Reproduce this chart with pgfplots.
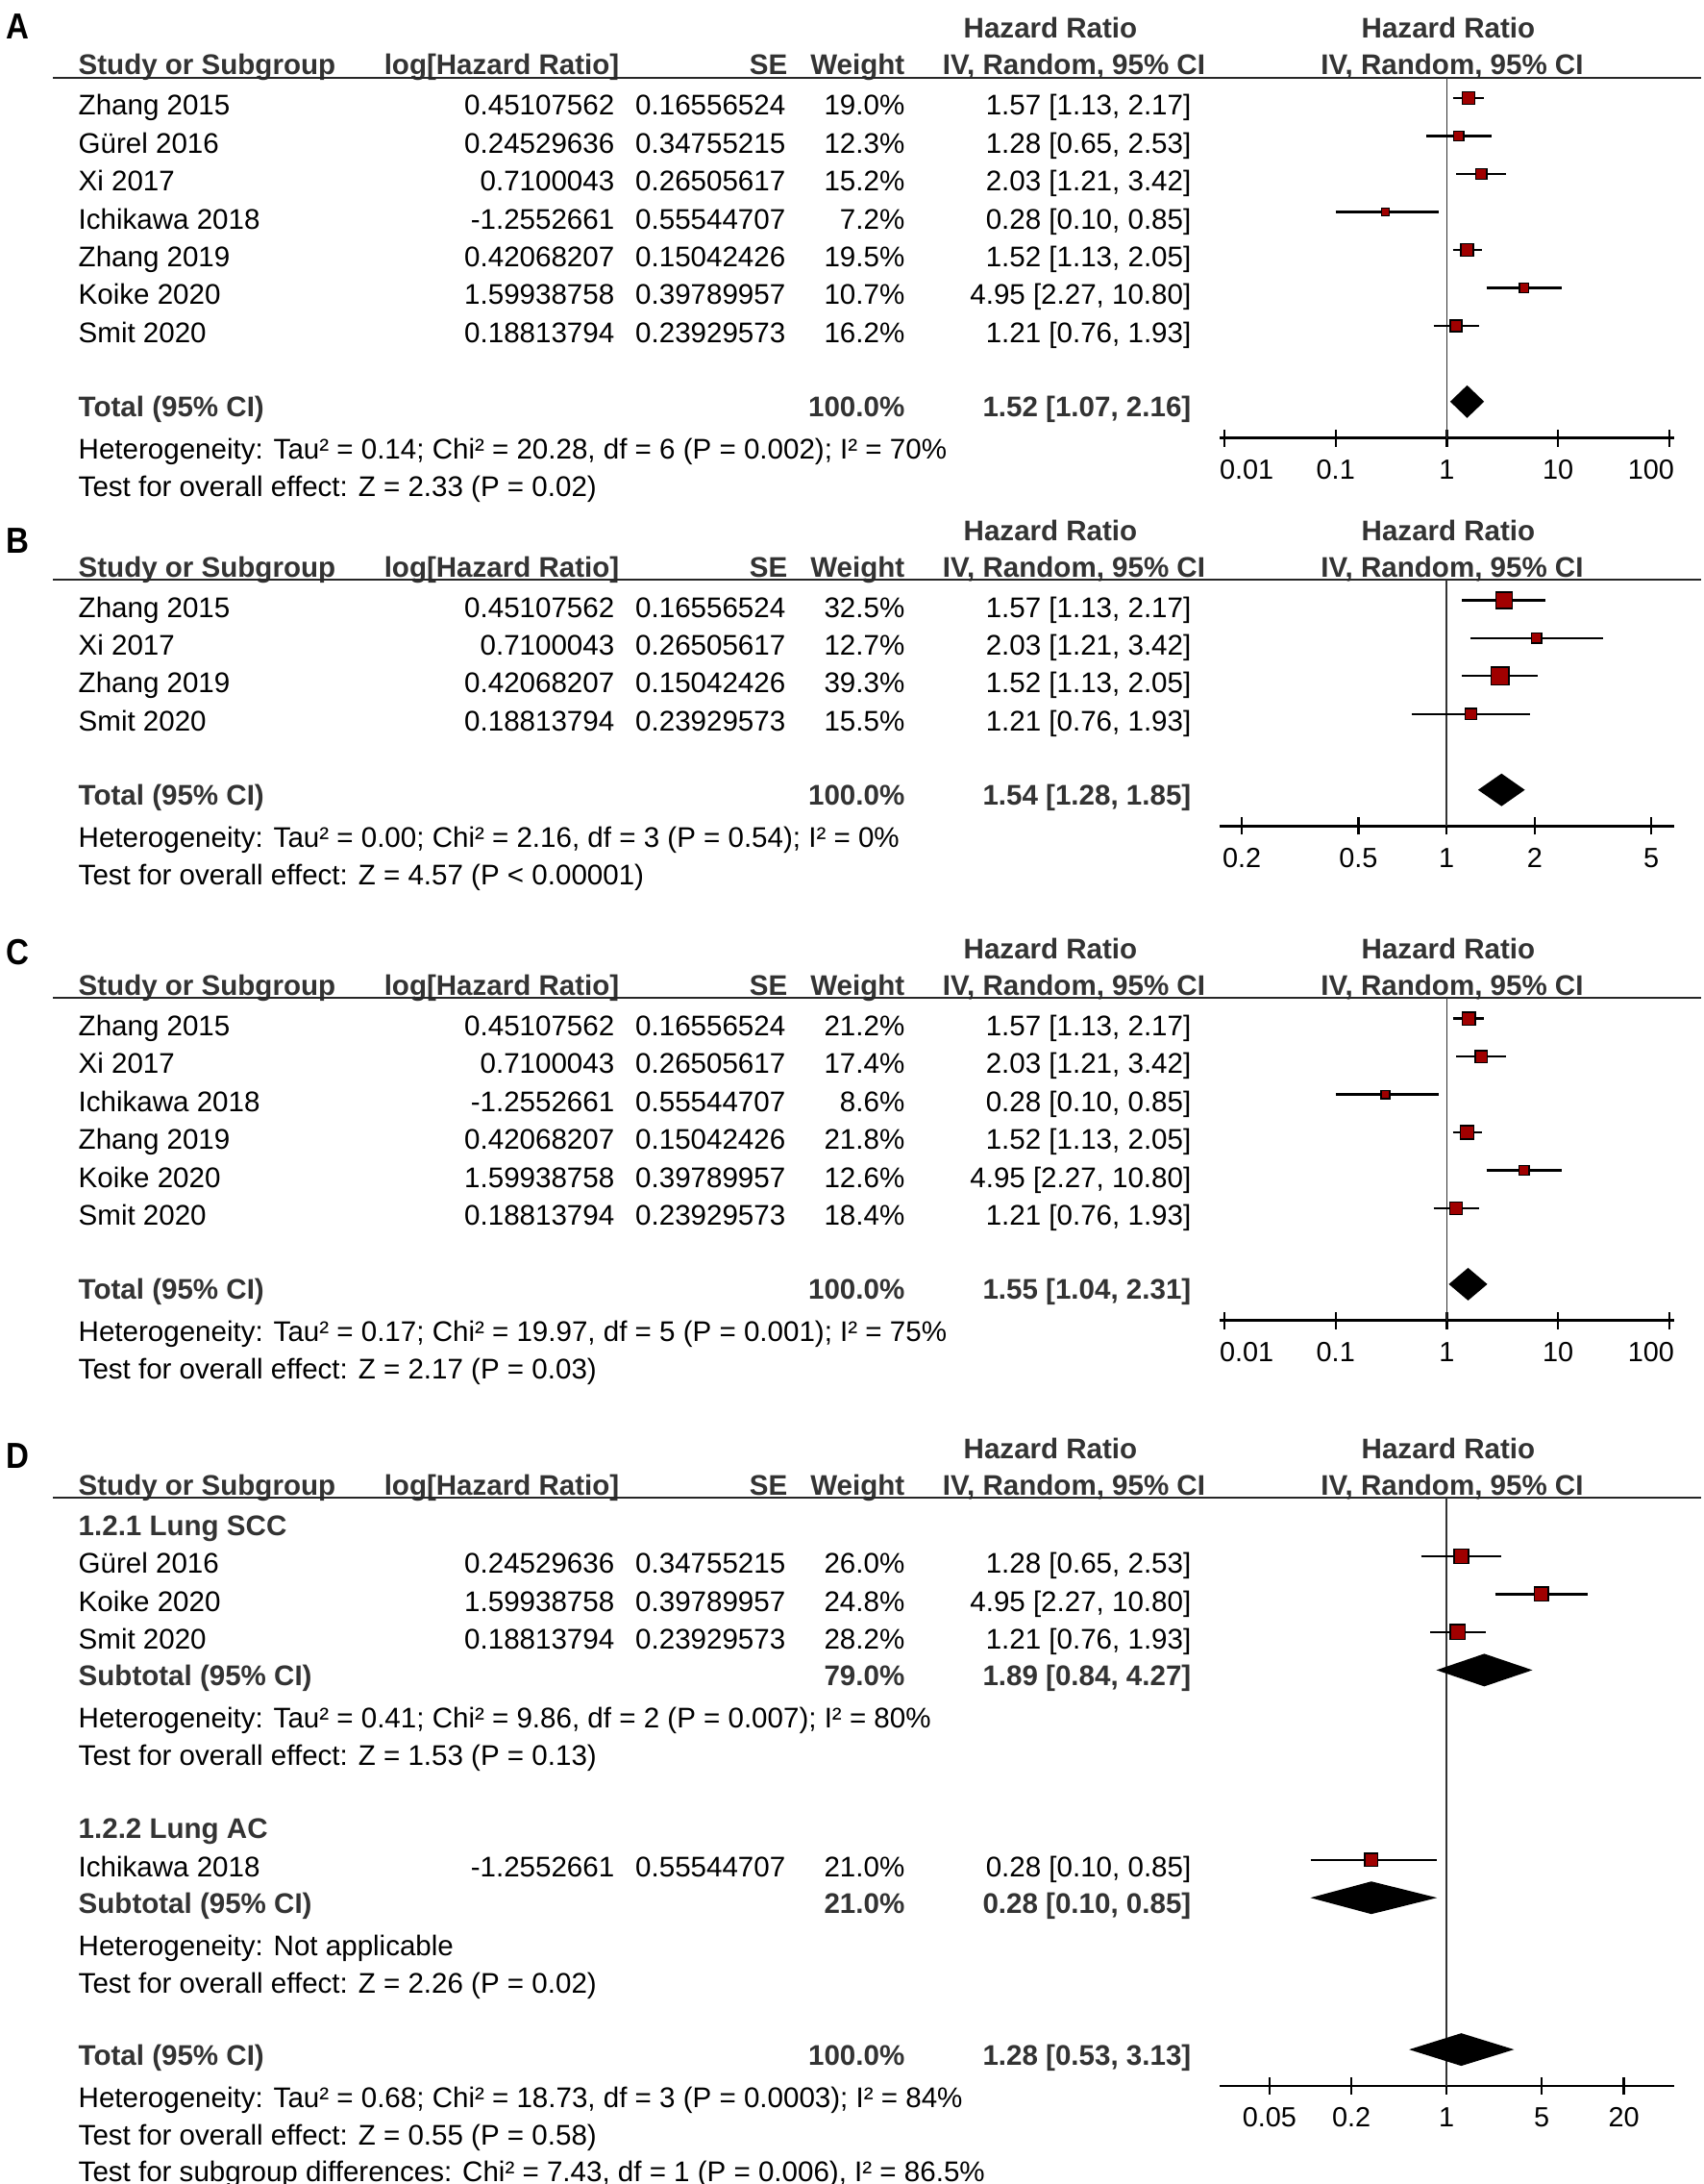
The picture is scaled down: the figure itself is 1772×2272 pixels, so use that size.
\documentclass[border=0pt]{standalone}
\usepackage{fontspec}
\setmainfont{Liberation Sans}
\usepackage{graphicx}
\usepackage{pgfplots}
\pgfplotsset{compat=1.18}

\definecolor{hd}{HTML}{333333}
\definecolor{sq}{HTML}{A00000}

\newcommand{\fs}{\fontsize{8.4}{10}\selectfont}
\newcommand{\Ry}{0}

% one study row of the table (row, name, log HR, SE, weight, HR [CI])
\newcommand{\study}[6]{%
  \node[anchor=base west] at ({81},{\Ry+39+39.45*(#1-1)}) {#2};
  \node[anchor=base east] at ({640},{\Ry+39+39.45*(#1-1)}) {#3};
  \node[anchor=base east] at ({818},{\Ry+39+39.45*(#1-1)}) {#4};
  \node[anchor=base east] at ({942},{\Ry+39+39.45*(#1-1)}) {#5};
  \node[anchor=base east] at ({1240},{\Ry+39+39.45*(#1-1)}) {#6};}
% bold total / subtotal row
\newcommand{\total}[4]{%
  \node[anchor=base west, text=hd, font=\bfseries\fs] at ({81},{\Ry+37.5+39.45*(#1-1)}) {#2};
  \node[anchor=base east, text=hd, font=\bfseries\fs] at ({942},{\Ry+37.5+39.45*(#1-1)}) {#3};
  \node[anchor=base east, text=hd, font=\bfseries\fs] at ({1240},{\Ry+37.5+39.45*(#1-1)}) {#4};}
% subgroup title
\newcommand{\group}[2]{%
  \node[anchor=base west, text=hd, font=\bfseries\fs] at ({81},{\Ry+39+39.45*(#1-1)}) {#2};}
% notes under a total row (row, offset, text)
\newcommand{\note}[3]{%
  \node[anchor=base west] at ({81},{\Ry+21.5+39.45*(#1-1)+#2}) {#3};}
% column heads and rule (letter, letter baseline)
\newcommand{\header}[2]{%
  \node[anchor=base west, font=\bfseries\fontsize{10.7}{12}\selectfont] at (6,#2) {\scalebox{0.88}[1]{#1}};
  \node[anchor=base, text=hd, font=\bfseries\fs] at (1093,{\Ry-41}) {Hazard Ratio};
  \node[anchor=base, text=hd, font=\bfseries\fs] at (1507,{\Ry-41}) {Hazard Ratio};
  \node[anchor=base west, text=hd, font=\bfseries\fs] at (81,{\Ry-3}) {Study or Subgroup};
  \node[anchor=base east, text=hd, font=\bfseries\fs] at (645,{\Ry-3}) {log[Hazard Ratio]};
  \node[anchor=base east, text=hd, font=\bfseries\fs] at (820,{\Ry-3}) {SE};
  \node[anchor=base east, text=hd, font=\bfseries\fs] at (942,{\Ry-3}) {Weight};
  \node[anchor=base, text=hd, font=\bfseries\fs] at (1117.5,{\Ry-3}) {IV, Random, 95\% CI};
  \node[anchor=base, text=hd, font=\bfseries\fs] at (1511,{\Ry-3}) {IV, Random, 95\% CI};
  \draw[line width=0.6pt, black!85] (55,\Ry) -- (1770,\Ry);}

% forest plot pieces
\newcommand{\ci}[3]{\addplot[black, line width=0.65pt] coordinates {(#1,#3) (#2,#3)};}
\pgfplotsset{
  every axis/.append style={
    scale only axis, width=4.727cm, clip=false,
    anchor=south west,
    axis y line=none, ytick=\empty,
    axis x line*=bottom,
    x axis line style={-, line width=0.65pt, black},
    xtick align=center, major tick length=0.18cm,
    tick style={line width=0.65pt, black},
    xminorticks=false,
    xticklabel style={font=\fontsize{8.2}{10}\selectfont, inner sep=0pt, anchor=base, yshift=-0.34cm},
  },
}

\begin{document}
\begin{tikzpicture}
\begin{scope}[x=0.01cm, y=-0.01cm, every node/.style={inner sep=0pt, font=\fs}]
\useasboundingbox (0,0) rectangle (1772,2272);

% ---------------- A ----------------
\renewcommand{\Ry}{80.7}
\header{A}{40}
\study{1}{Zhang 2015}{0.45107562}{0.16556524}{19.0\%}{1.57 [1.13, 2.17]}
\study{2}{Gürel 2016}{0.24529636}{0.34755215}{12.3\%}{1.28 [0.65, 2.53]}
\study{3}{Xi 2017}{0.7100043}{0.26505617}{15.2\%}{2.03 [1.21, 3.42]}
\study{4}{Ichikawa 2018}{-1.2552661}{0.55544707}{7.2\%}{0.28 [0.10, 0.85]}
\study{5}{Zhang 2019}{0.42068207}{0.15042426}{19.5\%}{1.52 [1.13, 2.05]}
\study{6}{Koike 2020}{1.59938758}{0.39789957}{10.7\%}{4.95 [2.27, 10.80]}
\study{7}{Smit 2020}{0.18813794}{0.23929573}{16.2\%}{1.21 [0.76, 1.93]}
\total{9}{Total (95\% CI)}{100.0\%}{1.52 [1.07, 2.16]}
\note{9}{60}{Heterogeneity: Tau² = 0.14; Chi² = 20.28, df = 6 (P = 0.002); I² = 70\%}
\note{9}{99}{Test for overall effect: Z = 2.33 (P = 0.02)}
\coordinate (axA) at (1269,455.5);

% ---------------- B ----------------
\renewcommand{\Ry}{603}
\header{B}{575}
\study{1}{Zhang 2015}{0.45107562}{0.16556524}{32.5\%}{1.57 [1.13, 2.17]}
\study{2}{Xi 2017}{0.7100043}{0.26505617}{12.7\%}{2.03 [1.21, 3.42]}
\study{3}{Zhang 2019}{0.42068207}{0.15042426}{39.3\%}{1.52 [1.13, 2.05]}
\study{4}{Smit 2020}{0.18813794}{0.23929573}{15.5\%}{1.21 [0.76, 1.93]}
\total{6}{Total (95\% CI)}{100.0\%}{1.54 [1.28, 1.85]}
\note{6}{60}{Heterogeneity: Tau² = 0.00; Chi² = 2.16, df = 3 (P = 0.54); I² = 0\%}
\note{6}{99}{Test for overall effect: Z = 4.57 (P < 0.00001)}
\coordinate (axB) at (1269,859.4);

% ---------------- C ----------------
\renewcommand{\Ry}{1038.3}
\header{C}{1003}
\study{1}{Zhang 2015}{0.45107562}{0.16556524}{21.2\%}{1.57 [1.13, 2.17]}
\study{2}{Xi 2017}{0.7100043}{0.26505617}{17.4\%}{2.03 [1.21, 3.42]}
\study{3}{Ichikawa 2018}{-1.2552661}{0.55544707}{8.6\%}{0.28 [0.10, 0.85]}
\study{4}{Zhang 2019}{0.42068207}{0.15042426}{21.8\%}{1.52 [1.13, 2.05]}
\study{5}{Koike 2020}{1.59938758}{0.39789957}{12.6\%}{4.95 [2.27, 10.80]}
\study{6}{Smit 2020}{0.18813794}{0.23929573}{18.4\%}{1.21 [0.76, 1.93]}
\total{8}{Total (95\% CI)}{100.0\%}{1.55 [1.04, 2.31]}
\note{8}{60}{Heterogeneity: Tau² = 0.17; Chi² = 19.97, df = 5 (P = 0.001); I² = 75\%}
\note{8}{99}{Test for overall effect: Z = 2.17 (P = 0.03)}
\coordinate (axC) at (1269,1373.6);

% ---------------- D ----------------
\renewcommand{\Ry}{1558.3}
\header{D}{1527}
\group{1}{1.2.1 Lung SCC}
\study{2}{Gürel 2016}{0.24529636}{0.34755215}{26.0\%}{1.28 [0.65, 2.53]}
\study{3}{Koike 2020}{1.59938758}{0.39789957}{24.8\%}{4.95 [2.27, 10.80]}
\study{4}{Smit 2020}{0.18813794}{0.23929573}{28.2\%}{1.21 [0.76, 1.93]}
\total{5}{Subtotal (95\% CI)}{79.0\%}{1.89 [0.84, 4.27]}
\note{5}{60}{Heterogeneity: Tau² = 0.41; Chi² = 9.86, df = 2 (P = 0.007); I² = 80\%}
\note{5}{99}{Test for overall effect: Z = 1.53 (P = 0.13)}
\group{9}{1.2.2 Lung AC}
\study{10}{Ichikawa 2018}{-1.2552661}{0.55544707}{21.0\%}{0.28 [0.10, 0.85]}
\total{11}{Subtotal (95\% CI)}{21.0\%}{0.28 [0.10, 0.85]}
\note{11}{60}{Heterogeneity: Not applicable}
\note{11}{99}{Test for overall effect: Z = 2.26 (P = 0.02)}
\total{15}{Total (95\% CI)}{100.0\%}{1.28 [0.53, 3.13]}
\note{15}{60}{Heterogeneity: Tau² = 0.68; Chi² = 18.73, df = 3 (P = 0.0003); I² = 84\%}
\note{15}{99}{Test for overall effect: Z = 0.55 (P = 0.58)}
\note{15}{137}{Test for subgroup differences: Chi² = 7.43, df = 1 (P = 0.006), I² = 86.5\%}
\coordinate (axD) at (1269,2169.8);
\end{scope}

% ---------------- forest plots ----------------
\begin{axis}[xmode=log, at={(axA)}, height=3.748cm,
  xmin=0.009051, xmax=110.5, ymin=-9.955, ymax=-0.455,
  xtick={0.01,0.1,1,10,100},
  xticklabels={\makebox[0pt][l]{\kern-0.05cm 0.01},0.1,1,10,\makebox[0pt][r]{100\kern-0.05cm}}]
\addplot[line width=0.5pt, hd] coordinates {(1,-0.455) (1,-9.955)};
\ci{1.13}{2.17}{-1} \ci{0.65}{2.53}{-2} \ci{1.21}{3.42}{-3} \ci{0.10}{0.85}{-4}
\ci{1.13}{2.05}{-5} \ci{2.27}{10.80}{-6} \ci{0.76}{1.93}{-7}
\addplot[scatter, only marks, mark=square*,
    scatter/use mapped color={draw=none, fill=sq},
    visualization depends on={0.42*sqrt(\thisrow{w}) \as \ms},
    scatter/@pre marker code/.append style={/tikz/mark size=\ms}]
  table[x=hr, y=row] {
hr row w
1.57 -1 19.0
1.28 -2 12.3
2.03 -3 15.2
0.28 -4 7.2
1.52 -5 19.5
4.95 -6 10.7
1.21 -7 16.2
};
\addplot[fill=black, draw=none] coordinates {(1.07,-9) (1.52,-8.57) (2.16,-9) (1.52,-9.43) (1.07,-9)};
\end{axis}

\begin{axis}[xmode=log, at={(axB)}, height=2.564cm,
  xmin=0.1679, xmax=5.984, ymin=-6.955, ymax=-0.455,
  xtick={0.2,0.5,1,2,5}, xticklabels={0.2,0.5,1,2,5}]
\addplot[line width=0.5pt, hd] coordinates {(1,-0.455) (1,-6.955)};
\ci{1.13}{2.17}{-1} \ci{1.21}{3.42}{-2} \ci{1.13}{2.05}{-3} \ci{0.76}{1.93}{-4}
\addplot[scatter, only marks, mark=square*,
    scatter/use mapped color={draw=none, fill=sq},
    visualization depends on={0.42*sqrt(\thisrow{w}) \as \ms},
    scatter/@pre marker code/.append style={/tikz/mark size=\ms}]
  table[x=hr, y=row] {
hr row w
1.57 -1 32.5
2.03 -2 12.7
1.52 -3 39.3
1.21 -4 15.5
};
\addplot[fill=black, draw=none] coordinates {(1.28,-6) (1.54,-5.57) (1.85,-6) (1.54,-6.43) (1.28,-6)};
\end{axis}

\begin{axis}[xmode=log, at={(axC)}, height=3.353cm,
  xmin=0.009051, xmax=110.5, ymin=-8.955, ymax=-0.455,
  xtick={0.01,0.1,1,10,100},
  xticklabels={\makebox[0pt][l]{\kern-0.05cm 0.01},0.1,1,10,\makebox[0pt][r]{100\kern-0.05cm}}]
\addplot[line width=0.5pt, hd] coordinates {(1,-0.455) (1,-8.955)};
\ci{1.13}{2.17}{-1} \ci{1.21}{3.42}{-2} \ci{0.10}{0.85}{-3}
\ci{1.13}{2.05}{-4} \ci{2.27}{10.80}{-5} \ci{0.76}{1.93}{-6}
\addplot[scatter, only marks, mark=square*,
    scatter/use mapped color={draw=none, fill=sq},
    visualization depends on={0.42*sqrt(\thisrow{w}) \as \ms},
    scatter/@pre marker code/.append style={/tikz/mark size=\ms}]
  table[x=hr, y=row] {
hr row w
1.57 -1 21.2
2.03 -2 17.4
0.28 -3 8.6
1.52 -4 21.8
4.95 -5 12.6
1.21 -6 18.4
};
\addplot[fill=black, draw=none] coordinates {(1.04,-8) (1.55,-7.57) (2.31,-8) (1.55,-8.43) (1.04,-8)};
\end{axis}

\begin{axis}[xmode=log, at={(axD)}, height=6.115cm,
  xmin=0.02153, xmax=46.9, ymin=-15.955, ymax=-0.455,
  xtick={0.05,0.2,1,5,20}, xticklabels={0.05,0.2,1,5,20}]
\addplot[line width=0.5pt, hd] coordinates {(1,-0.455) (1,-15.955)};
\ci{0.65}{2.53}{-2} \ci{2.27}{10.80}{-3} \ci{0.76}{1.93}{-4} \ci{0.10}{0.85}{-10}
\addplot[scatter, only marks, mark=square*,
    scatter/use mapped color={draw=none, fill=sq},
    visualization depends on={0.42*sqrt(\thisrow{w}) \as \ms},
    scatter/@pre marker code/.append style={/tikz/mark size=\ms}]
  table[x=hr, y=row] {
hr row w
1.28 -2 26.0
4.95 -3 24.8
1.21 -4 28.2
0.28 -10 21.0
};
\addplot[fill=black, draw=none] coordinates {(0.84,-5) (1.89,-4.57) (4.27,-5) (1.89,-5.43) (0.84,-5)};
\addplot[fill=black, draw=none] coordinates {(0.10,-11) (0.28,-10.57) (0.85,-11) (0.28,-11.43) (0.10,-11)};
\addplot[fill=black, draw=none] coordinates {(0.53,-15) (1.28,-14.57) (3.13,-15) (1.28,-15.43) (0.53,-15)};
\end{axis}
\end{tikzpicture}
\end{document}
